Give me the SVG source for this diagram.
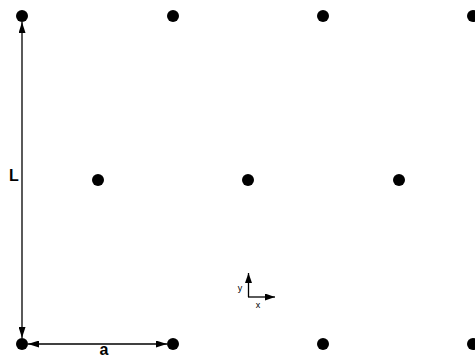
<svg xmlns="http://www.w3.org/2000/svg" width="475" height="358" viewBox="0 0 475 358">
<defs>
<marker id="ah" viewBox="0 0 11 7" refX="11" refY="3.5" markerWidth="11" markerHeight="7" markerUnits="userSpaceOnUse" orient="auto-start-reverse"><path d="M0,0 L11,3.5 L0,7 Z" fill="#000"/></marker>
<marker id="sh" viewBox="0 0 10 7" refX="10" refY="3.5" markerWidth="10" markerHeight="7" markerUnits="userSpaceOnUse" orient="auto"><path d="M0,0 L10,3.5 L0,7 Z" fill="#000"/></marker>
</defs>
<style>
.dot{fill:#000}
.ln{stroke:#000;stroke-width:1.3;fill:none}
.lbl{font-family:"Liberation Sans",Arial,sans-serif;font-weight:bold;font-size:16px;fill:#000}
.ax{font-family:"Liberation Sans",Arial,sans-serif;font-size:9px;fill:#000}
</style>
<rect width="475" height="358" fill="#fff"/>
<g id="n1"><circle class="dot" cx="22" cy="16" r="6"/></g>
<g id="n2"><circle class="dot" cx="173" cy="16" r="6"/></g>
<g id="n3"><circle class="dot" cx="323" cy="16" r="6"/></g>
<g id="n4"><circle class="dot" cx="473" cy="16" r="6"/></g>
<g id="n5"><circle class="dot" cx="98" cy="180" r="6"/></g>
<g id="n6"><circle class="dot" cx="248" cy="180" r="6"/></g>
<g id="n7"><circle class="dot" cx="399" cy="180" r="6"/></g>
<g id="n8"><circle class="dot" cx="22" cy="344" r="6"/></g>
<g id="n9"><circle class="dot" cx="173" cy="344" r="6"/></g>
<g id="n10"><circle class="dot" cx="323" cy="344" r="6"/></g>
<g id="n11"><circle class="dot" cx="473" cy="344" r="6"/></g>
<g id="connectors">
<line class="ln" x1="22" y1="22" x2="22" y2="338" marker-start="url(#ah)" marker-end="url(#ah)"/>
<line class="ln" x1="28" y1="344" x2="167" y2="344" marker-start="url(#ah)" marker-end="url(#ah)"/>
<line class="ln" x1="248.5" y1="297" x2="248.5" y2="273" marker-end="url(#sh)"/>
<line class="ln" x1="248" y1="297" x2="275" y2="297" marker-end="url(#sh)"/>
</g>
<text class="lbl" x="9" y="181">L</text>
<text class="lbl" x="104" y="355" text-anchor="middle">a</text>
<text class="ax" x="240" y="291" text-anchor="middle">y</text>
<text class="ax" x="258" y="308" text-anchor="middle">x</text>
</svg>
